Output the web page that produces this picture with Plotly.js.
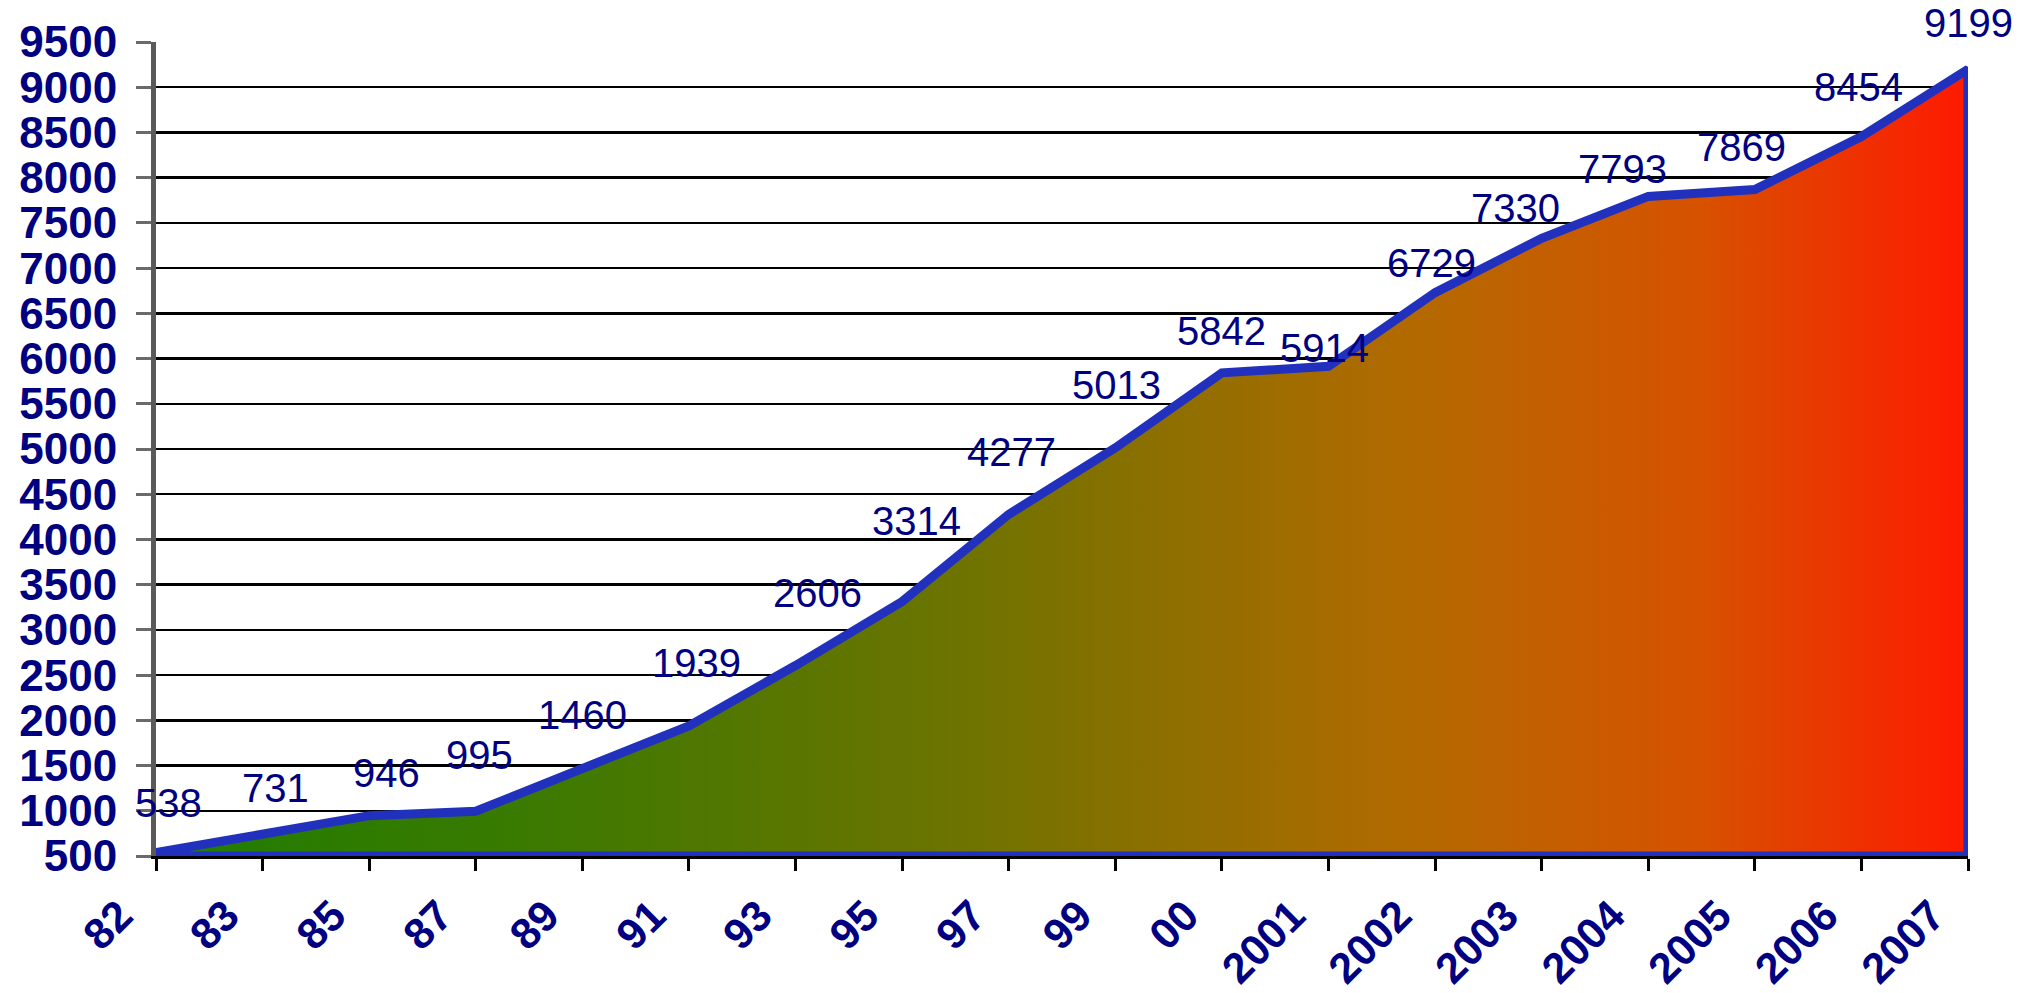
<!DOCTYPE html>
<html>
<head>
<meta charset="utf-8">
<script src="https://cdn.plot.ly/plotly-3.0.1.min.js"></script>
<style>
  html, body { margin: 0; padding: 0; background: #ffffff; }
  #chart { width: 2031px; height: 993px; }
</style>
</head>
<body>
<div id="chart"></div>
<script>
// ---- data ----
const categories = ["82", "83", "85", "87", "89", "91", "93", "95", "97", "99", "00",
                    "2001", "2002", "2003", "2004", "2005", "2006", "2007"];
const values = [538, 731, 946, 995, 1460, 1939, 2606, 3314, 4277, 5013, 5842,
                5914, 6729, 7330, 7793, 7869, 8454, 9199];
const yTicks = [500, 1000, 1500, 2000, 2500, 3000, 3500, 4000, 4500, 5000,
                5500, 6000, 6500, 7000, 7500, 8000, 8500, 9000, 9500];

// ---- presentation: small pixel nudges of the value labels (as placed in the original) ----
const labelNudgeX = [12, 13, 17, 4, 0, 8, 22, 14, 3, 1, 0, -4, -4, -26, -26, -13, -3, 0];
const labelNudgeY = [4, 1, -3, 10, 8, 17, 27, 34, 16, 17, -4, -28, -16, -16, -19, -3, 4, 0];

const yMin = yTicks[0];
const yMax = yTicks[yTicks.length - 1];
const navy = "#000080";
const blue = "#2131bd";

// closed area outline: data line, then down the right edge and back along the base
const polyX = categories.concat([categories[categories.length - 1], categories[0]]);
const polyY = values.concat([yMin, yMin]);

const area = {
  type: "scatter",
  mode: "lines",
  x: polyX,
  y: polyY,
  fill: "toself",
  fillgradient: {
    type: "horizontal",
    colorscale: [
      [0.0, "#1f7d00"],
      [0.2, "#3a7a00"],
      [0.43, "#6a7400"],
      [0.69, "#b26a00"],
      [0.85, "#d65200"],
      [1.0, "#ff1a00"]
    ]
  },
  line: { color: blue, width: 9, shape: "linear" },
  hoverinfo: "skip",
  showlegend: false,
  cliponaxis: false
};

// annotations positioned by category index (numeric-looking category names
// like "00" would otherwise be read as numbers)
const annotations = categories.map((c, i) => ({
  x: i,
  y: values[i],
  xref: "x",
  yref: "y",
  text: String(values[i]),
  showarrow: false,
  xanchor: "center",
  yanchor: "middle",
  xshift: labelNudgeX[i],
  yshift: 46 + labelNudgeY[i],
  font: { family: "Liberation Sans, Arial, sans-serif", size: 40, color: navy }
}));

const layout = {
  width: 2031,
  height: 993,
  paper_bgcolor: "#ffffff",
  plot_bgcolor: "#ffffff",
  margin: { l: 156, r: 63, t: 42, b: 137 },
  showlegend: false,
  xaxis: {
    type: "category",
    categoryorder: "array",
    categoryarray: categories,
    range: [0, categories.length - 1],
    showgrid: false,
    zeroline: false,
    showline: true,
    linecolor: "#000000",
    linewidth: 3,
    ticks: "outside",
    ticklen: 12,
    tickwidth: 3,
    tickcolor: "#000000",
    tickangle: -45,
    ticklabelstandoff: 2,
    ticklabelshift: -36,
    tickfont: { family: "Liberation Sans, Arial, sans-serif", size: 43, color: navy, weight: "bold" },
    fixedrange: true
  },
  yaxis: {
    range: [yMin, yMax],
    tickvals: yTicks,
    ticktext: yTicks.map(String),
    showgrid: true,
    gridcolor: "#000000",
    gridwidth: 2.5,
    zeroline: false,
    showline: true,
    linecolor: "#5a5a5a",
    linewidth: 5,
    ticks: "outside",
    ticklen: 15,
    tickwidth: 3,
    tickcolor: "#6a6a6a",
    ticklabelstandoff: 10,
    tickfont: { family: "Liberation Sans, Arial, sans-serif", size: 44, color: navy, weight: "bold" },
    fixedrange: true
  },
  annotations: annotations
};

Plotly.newPlot("chart", [area], layout, { displayModeBar: false, staticPlot: true });
</script>
</body>
</html>
